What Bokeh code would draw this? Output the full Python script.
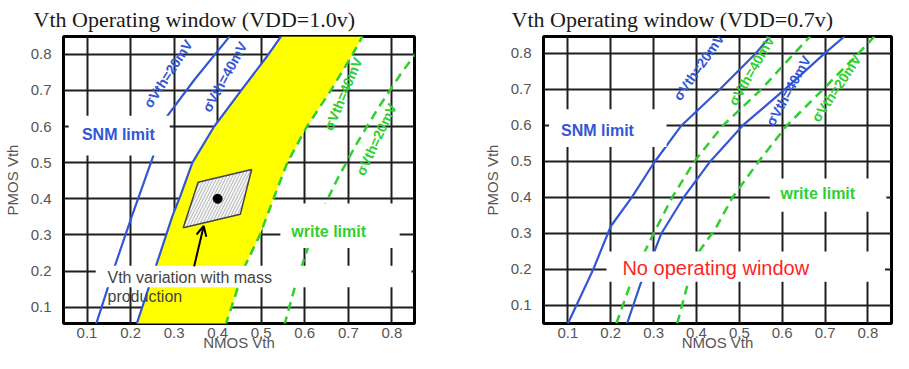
from bokeh.plotting import figure
from bokeh.models import Range1d, FixedTicker, Label, BoxAnnotation, Arrow, OpenHead
from bokeh.layouts import row
from bokeh.embed import file_html
from bokeh.resources import INLINE

# ---------------- data ----------------
TICKS = [0.1, 0.2, 0.3, 0.4, 0.5, 0.6, 0.7, 0.8]
TICK_LABELS = ["0.1", "0.2", "0.3", "0.4", "0.5", "0.6", "0.7", "0.8"]
X_LABEL = "NMOS Vth"
Y_LABEL = "PMOS Vth"
TITLES = ["Vth Operating window (VDD=1.0v)", "Vth Operating window (VDD=0.7v)"]

# Left panel (VDD = 1.0 V)
L_SNM20_X = [0.120, 0.165, 0.203, 0.219, 0.252, 0.282, 0.347, 0.428]
L_SNM20_Y = [0.05, 0.218, 0.352, 0.406, 0.518, 0.625, 0.730, 0.85]
L_SNM40_X = [0.213, 0.258, 0.296, 0.315, 0.342, 0.392, 0.454, 0.517, 0.546]
L_SNM40_Y = [0.05, 0.213, 0.352, 0.410, 0.500, 0.600, 0.700, 0.800, 0.85]
L_WR40_X = [0.418, 0.463, 0.497, 0.530, 0.560, 0.605, 0.660, 0.710, 0.733]
L_WR40_Y = [0.05, 0.215, 0.300, 0.406, 0.500, 0.600, 0.700, 0.800, 0.85]
L_WR20_X = [0.553, 0.576, 0.603, 0.633, 0.673, 0.718, 0.768, 0.823, 0.860]
L_WR20_Y = [0.05, 0.150, 0.250, 0.350, 0.450, 0.550, 0.650, 0.750, 0.810]
SPREAD_X = [0.355, 0.478, 0.452, 0.321]
SPREAD_Y = [0.446, 0.481, 0.357, 0.320]
NOMINAL_X = [0.400]
NOMINAL_Y = [0.400]
ARROW_FROM = (0.346, 0.213)
ARROW_TO = (0.368, 0.325)

# Right panel (VDD = 0.7 V)
R_SNM20_X = [0.100, 0.159, 0.200, 0.249, 0.300, 0.365, 0.454, 0.538, 0.572]
R_SNM20_Y = [0.05, 0.200, 0.320, 0.400, 0.495, 0.600, 0.700, 0.800, 0.847]
R_WR40_X = [0.213, 0.256, 0.300, 0.343, 0.395, 0.462, 0.551, 0.628, 0.665]
R_WR40_Y = [0.05, 0.193, 0.300, 0.400, 0.500, 0.600, 0.700, 0.800, 0.847]
R_SNM40_X = [0.238, 0.270, 0.300, 0.318, 0.370, 0.432, 0.508, 0.606, 0.699, 0.745]
R_SNM40_Y = [0.05, 0.162, 0.245, 0.300, 0.400, 0.500, 0.600, 0.700, 0.800, 0.847]
R_WR20_X = [0.355, 0.384, 0.406, 0.444, 0.484, 0.545, 0.611, 0.695, 0.778, 0.815]
R_WR20_Y = [0.05, 0.180, 0.250, 0.313, 0.400, 0.500, 0.600, 0.700, 0.800, 0.847]

# ---------------- styles ----------------
BLUE = "#3356d6"
GREEN = "#2fcf2f"
RED = "#ff2424"
GRID = "#1e1e1e"
TICK_COLOR = "#555555"
SANS = "Liberation Sans"
SERIF = "Liberation Serif"


def make_fig(title, width, b_left, b_right, xr, yr, title_offset):
    p = figure(width=width, height=353, x_range=Range1d(*xr), y_range=Range1d(*yr),
               output_backend="svg", toolbar_location=None,
               min_border_left=b_left, min_border_right=b_right,
               min_border_top=27, min_border_bottom=30)
    p.title.text = title
    p.title.text_font = SERIF
    p.title.text_font_size = "22px"
    p.title.text_font_style = "normal"
    p.title.text_color = "#1a1a1a"
    p.title.align = "left"
    p.title.offset = title_offset
    p.title.standoff = 9
    p.xaxis.axis_label = X_LABEL
    p.yaxis.axis_label = Y_LABEL
    overrides = {t: l for t, l in zip(TICKS, TICK_LABELS)}
    for ax in (p.xaxis[0], p.yaxis[0]):
        ax.ticker = FixedTicker(ticks=TICKS)
        ax.major_label_overrides = overrides
        ax.axis_line_color = None
        ax.major_tick_line_color = None
        ax.minor_tick_line_color = None
        ax.major_tick_out = 0
        ax.major_tick_in = 0
        ax.minor_tick_out = 0
        ax.minor_tick_in = 0
        ax.major_label_text_font = SANS
        ax.major_label_text_font_size = "15px"
        ax.major_label_text_color = TICK_COLOR
        ax.axis_label_text_font = SANS
        ax.axis_label_text_font_size = "15px"
        ax.axis_label_text_font_style = "normal"
        ax.axis_label_text_color = TICK_COLOR
    p.xaxis.major_label_standoff = 4
    p.xaxis.axis_label_standoff = -7
    p.yaxis.major_label_standoff = 12
    p.yaxis.axis_label_standoff = 7
    for g in (p.xgrid[0], p.ygrid[0]):
        g.ticker = FixedTicker(ticks=TICKS)
        g.grid_line_color = GRID
        g.grid_line_width = 2
    p.outline_line_color = "black"
    p.outline_line_width = 3
    p.background_fill_color = "white"
    p.border_fill_color = "white"
    return p


def white_box(p, l, r, b, t):
    p.add_layout(BoxAnnotation(left=l, right=r, bottom=b, top=t, fill_color="white",
                               fill_alpha=1.0, line_color=None))


def label(p, x, y, text, color, size, bold=False, angle=0, align="center"):
    p.add_layout(Label(x=x, y=y, text=text, text_color=color, text_font=SANS,
                       text_font_size=size, text_font_style="bold" if bold else "normal",
                       angle=angle, angle_units="deg", text_align=align,
                       text_baseline="middle"))


# ---------------- left panel ----------------
p1 = make_fig(TITLES[0], 480, 59, 66, (0.046, 0.852), (0.055, 0.849), -30)
p1.patch(L_SNM40_X + L_WR40_X[::-1], L_SNM40_Y + L_WR40_Y[::-1],
         fill_color="#ffff00", line_color=None)
p1.line(L_SNM20_X, L_SNM20_Y, line_color=BLUE, line_width=2.2)
p1.line(L_SNM40_X, L_SNM40_Y, line_color=BLUE, line_width=2.2)
p1.line(L_WR40_X, L_WR40_Y, line_color=GREEN, line_width=2.5, line_dash="9 6")
p1.line(L_WR20_X, L_WR20_Y, line_color=GREEN, line_width=2.5, line_dash="9 6")
p1.patch(SPREAD_X, SPREAD_Y, fill_color="#f4f4f4", line_color="#444444", line_width=1.5,
         hatch_pattern="/", hatch_color="#b8b8b8", hatch_scale=6, hatch_weight=1)
p1.scatter(NOMINAL_X, NOMINAL_Y, size=9, color="black")

white_box(p1, 0.058, 0.29, 0.52, 0.63)
white_box(p1, 0.544, 0.818, 0.264, 0.387)
white_box(p1, 0.12, 0.845, 0.155, 0.215)

p1.add_layout(Arrow(end=OpenHead(size=10, line_width=2, line_color="black"),
                    x_start=ARROW_FROM[0], y_start=ARROW_FROM[1],
                    x_end=ARROW_TO[0], y_end=ARROW_TO[1],
                    line_width=2, line_color="black"))

label(p1, 0.286, 0.746, "σVth=20mV", BLUE, "14px", True, 57)
label(p1, 0.416, 0.737, "σVth=40mV", BLUE, "14px", True, 61)
label(p1, 0.688, 0.690, "σVth=40mV", GREEN, "14px", True, 67)
label(p1, 0.764, 0.564, "σVth=20mV", GREEN, "14px", True, 65)
label(p1, 0.172, 0.577, "SNM limit", BLUE, "16px", True)
label(p1, 0.655, 0.310, "write limit", GREEN, "16px", True)
label(p1, 0.147, 0.183, "Vth variation with mass", "#444444", "16px", False, 0, "left")
label(p1, 0.147, 0.130, "production", "#444444", "16px", False, 0, "left")

# ---------------- right panel ----------------
p2 = make_fig(TITLES[1], 413, 59, 2, (0.043, 0.855), (0.05, 0.847), -32)
p2.line(R_SNM20_X, R_SNM20_Y, line_color=BLUE, line_width=2.2)
p2.line(R_SNM40_X, R_SNM40_Y, line_color=BLUE, line_width=2.2)
p2.line(R_WR40_X, R_WR40_Y, line_color=GREEN, line_width=2.5, line_dash="9 6")
p2.line(R_WR20_X, R_WR20_Y, line_color=GREEN, line_width=2.5, line_dash="9 6")

white_box(p2, 0.056, 0.33, 0.54, 0.645)
white_box(p2, 0.571, 0.843, 0.36, 0.453)
white_box(p2, 0.19, 0.84, 0.166, 0.25)

label(p2, 0.405, 0.762, "σVth=20mV", BLUE, "14px", True, 55)
label(p2, 0.528, 0.752, "σVth=40mV", GREEN, "14px", True, 60)
label(p2, 0.614, 0.696, "σVth=40mV", BLUE, "14px", True, 61)
label(p2, 0.726, 0.703, "σVth=20mV", GREEN, "14px", True, 56)
label(p2, 0.169, 0.585, "SNM limit", BLUE, "16px", True)
label(p2, 0.683, 0.410, "write limit", GREEN, "16px", True)
label(p2, 0.445, 0.205, "No operating window", RED, "20px", False)

layout = row(p1, p2)
open("out.html", "w").write(file_html(layout, INLINE))
